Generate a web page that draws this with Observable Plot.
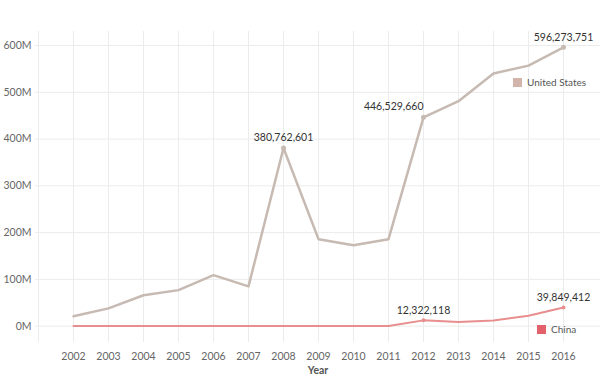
<!DOCTYPE html>
<html>
<head>
<meta charset="utf-8">
<script src="https://cdn.jsdelivr.net/npm/d3@7"></script>
<script src="https://cdn.jsdelivr.net/npm/@observablehq/plot@0.6"></script>
<style>
  html, body { margin: 0; padding: 0; background: #fff; }
  #wrap { position: relative; width: 600px; height: 378px; font-family: Lato, "Open Sans", sans-serif; }
  .leg { position: absolute; font-size: 10px; color: #555; display: flex; align-items: center; gap: 5px; }
  .sw { width: 9px; height: 9px; display: inline-block; }
</style>
</head>
<body>
<div id="wrap"></div>
<script>
const years = [2002,2003,2004,2005,2006,2007,2008,2009,2010,2011,2012,2013,2014,2015,2016];
const usValues = [21e6,38e6,66e6,77e6,109e6,85e6,380762601,186e6,173e6,186e6,446529660,481e6,540e6,557e6,596273751];
const chinaValues = [0.2e6,0.2e6,0.2e6,0.2e6,0.2e6,0.2e6,0.2e6,0.2e6,0.2e6,0.3e6,12322118,9e6,12e6,22e6,39849412];
const yTicks = [0,100e6,200e6,300e6,400e6,500e6,600e6];
const seriesNames = ["United States","China"];
const seriesColors = ["#c6bab2","#e88e8e"];
const swatchColors = ["#d3b4ab","#e2616a"];
const labelledUS = [2008, 2012, 2016];
const labelledChina = [2012, 2016];

const us = years.map((y,i)=>({year:y, value:usValues[i], series:"United States"}));
const cn = years.map((y,i)=>({year:y, value:chinaValues[i], series:"China"}));
const fmt = d3.format(",");

const chart = Plot.plot({
  width: 600,
  height: 378,
  marginLeft: 35,
  marginRight: 0,
  marginTop: 31,
  marginBottom: 36,
  style: {fontFamily: "Lato, 'Open Sans', sans-serif", fontSize: "10.5px", color: "#666", background: "#fff"},
  x: {type: "point", domain: years, padding: 1, label: null, tickSize: 0, tickPadding: 10, tickFormat: d => String(d)},
  y: {domain: [-35e6, 630e6], ticks: yTicks, tickFormat: d => (d/1e6) + "M", label: null, tickSize: 0, tickPadding: 4},
  marks: [
    Plot.gridX(years, {stroke: "#ececec", strokeOpacity: 1}),
    Plot.gridY(yTicks, {stroke: "#ececec", strokeOpacity: 1}),
    Plot.ruleX([years[0]], {stroke: "#ececec", dx: -35}),
    Plot.axisX({tickSize: 0, tickPadding: 10, fill: "#666", fontSize: 10.5, tickFormat: d => String(d)}),
    Plot.axisY({ticks: yTicks, tickFormat: d => (d/1e6) + "M", tickSize: 0, tickPadding: 4, fill: "#666", fontSize: 10.5}),
    Plot.text(["Year"], {frameAnchor: "bottom", dy: 31, fontWeight: "bold", fill: "#555", fontSize: 10.5}),
    Plot.line(us, {x: "year", y: "value", stroke: seriesColors[0], strokeWidth: 2.5}),
    Plot.line(cn, {x: "year", y: "value", stroke: seriesColors[1], strokeWidth: 2}),
    Plot.dot(us.filter(d => labelledUS.includes(d.year)), {x: "year", y: "value", r: 2.5, fill: seriesColors[0]}),
    Plot.dot(cn.filter(d => labelledChina.includes(d.year)), {x: "year", y: "value", r: 2, fill: seriesColors[1]}),
    Plot.text(us.filter(d => d.year === 2008 || d.year === 2016), {x: "year", y: "value", text: d => fmt(d.value), dy: -10, fill: "#333", fontSize: 10.5}),
    Plot.text(us.filter(d => d.year === 2012), {x: "year", y: "value", text: d => fmt(d.value), textAnchor: "end", dx: 0, dy: -11, fill: "#333", fontSize: 10.5}),
    Plot.text(cn.filter(d => labelledChina.includes(d.year)), {x: "year", y: "value", text: d => fmt(d.value), dy: -10, fill: "#333", fontSize: 10.5})
  ]
});
const wrap = document.getElementById("wrap");
wrap.appendChild(chart);

const legPos = [{left: 513, top: 76}, {left: 537, top: 323}];
seriesNames.forEach((name, i) => {
  const el = document.createElement("div");
  el.className = "leg";
  el.style.left = legPos[i].left + "px";
  el.style.top = legPos[i].top + "px";
  el.innerHTML = `<span class="sw" style="background:${swatchColors[i]}"></span><span>${name}</span>`;
  wrap.appendChild(el);
});
</script>
</body>
</html>
